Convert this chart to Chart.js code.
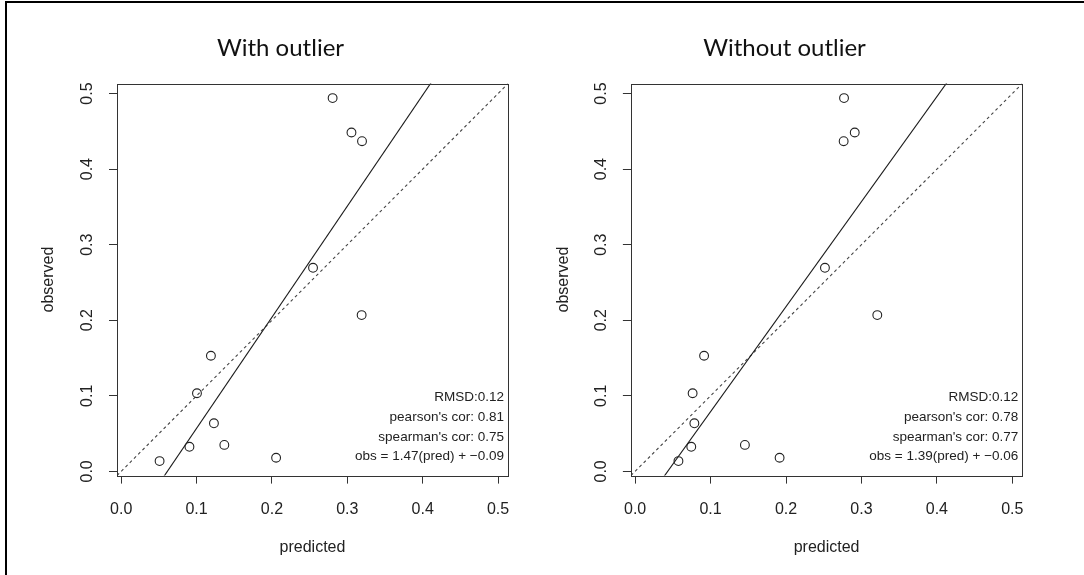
<!DOCTYPE html>
<html>
<head>
<meta charset="utf-8">
<script src="https://cdn.jsdelivr.net/npm/chart.js@4.4.1/dist/chart.umd.min.js"></script>
<style>
  html, body { margin: 0; padding: 0; background: #fff; }
  #page { position: relative; width: 1084px; height: 575px; overflow: hidden; }
  #frame { position: absolute; left: 5px; top: 1px; width: 1090px; height: 580px;
           border-left: 2px solid #000; border-top: 2px solid #000; }
  canvas { position: absolute; top: 0; }
</style>
</head>
<body>
<div id="page">
  <div id="frame"></div>
  <canvas id="left" width="551" height="575" style="left:5px"></canvas>
  <canvas id="right" width="511" height="575" style="left:529px"></canvas>
</div>
<script>
// observed values (same in both panels)
const observed = [0.494, 0.4485, 0.437, 0.2694, 0.2068, 0.153, 0.1034, 0.0636, 0.0325, 0.035, 0.0136, 0.018];
// predicted values
const predWith = [0.2805, 0.3055, 0.3195, 0.2545, 0.319, 0.119, 0.1005, 0.123, 0.0905, 0.1368, 0.0509, 0.2055];
const predWithout = [0.2769, 0.2911, 0.2764, 0.2516, 0.321, 0.0914, 0.0762, 0.0785, 0.0744, 0.1455, 0.0574, 0.1915];

const titles = ['With outlier', 'Without outlier'];
const tickVals = [0, 0.1, 0.2, 0.3, 0.4, 0.5];

// regression lines from the legend text: obs = slope*(pred) + intercept
const slopes = [1.47, 1.39];
const intercepts = [-0.09, -0.06];

const statsWith = ['RMSD:0.12', "pearson's cor: 0.81", "spearman's cor: 0.75", 'obs = 1.47(pred) + \u22120.09'];
const statsWithout = ['RMSD:0.12', "pearson's cor: 0.78", "spearman's cor: 0.77", 'obs = 1.39(pred) + \u22120.06'];

// R style limits: range of observed widened by 4%
const oMin = Math.min(...observed), oMax = Math.max(...observed);
const lo = oMin - 0.04 * (oMax - oMin);
const hi = oMax + 0.04 * (oMax - oMin);

const FONT = '"Liberation Sans", Arial, sans-serif';

const boxAndText = {
  id: 'boxAndText',
  afterDraw(chart, args, opts) {
    const { ctx, chartArea: a } = chart;
    ctx.save();
    ctx.strokeStyle = '#333';
    ctx.lineWidth = 1;
    ctx.strokeRect(Math.round(a.left) + 0.5, Math.round(a.top) + 0.5,
                   Math.round(a.right - a.left), Math.round(a.bottom - a.top));
    ctx.fillStyle = '#222';
    ctx.font = '13.5px ' + FONT;
    ctx.textAlign = 'right';
    ctx.textBaseline = 'middle';
    const n = opts.lines.length;
    opts.lines.forEach((t, i) => {
      ctx.fillText(t, a.right - 4, a.bottom - 19 - 19.7 * (n - 1 - i));
    });
    ctx.restore();
  }
};

function makePanel(id, k, pred, lines, yWidth, padRight, yTitlePad) {
  const ctx = document.getElementById(id).getContext('2d');
  const pts = pred.map((p, i) => ({ x: p, y: observed[i] }));
  const fit = [lo, hi].map(x => ({ x: x, y: slopes[k] * x + intercepts[k] }));
  const diag = [lo, hi].map(x => ({ x: x, y: x }));

  return new Chart(ctx, {
    type: 'scatter',
    data: {
      datasets: [{
        data: pts,
        pointStyle: 'circle',
        pointRadius: 4.4,
        borderWidth: 1.1,
        borderColor: '#222',
        backgroundColor: 'rgba(0,0,0,0)'
      }, {
        type: 'line',
        data: fit,
        borderColor: '#1a1a1a',
        borderWidth: 1.1,
        pointRadius: 0
      }, {
        type: 'line',
        data: diag,
        borderColor: '#444',
        borderWidth: 1.1,
        borderDash: [3, 3],
        pointRadius: 0
      }]
    },
    options: {
      responsive: false,
      animation: false,
      devicePixelRatio: 1,
      layout: { padding: 0 },
      plugins: {
        legend: { display: false },
        tooltip: { enabled: false },
        title: {
          display: true,
          text: titles[k],
          color: '#111',
          font: { family: 'Lato', size: 24, weight: 'normal', lineHeight: 1.2 },
          padding: { top: 34.1, bottom: 20.7 }
        },
        boxAndText: { lines: lines }
      },
      scales: {
        x: {
          type: 'linear',
          min: lo,
          max: hi,
          afterBuildTicks: s => { s.ticks = tickVals.map(v => ({ value: v })); },
          afterFit: s => { s.height = 575 - 475.6; },
          border: { display: false },
          grid: { drawOnChartArea: false, drawTicks: true, tickLength: 8, color: '#333' },
          ticks: {
            autoSkip: false, padding: 16, color: '#222',
            font: { family: FONT, size: 16 },
            callback: v => Number(v).toFixed(1)
          },
          title: {
            display: true, text: 'predicted', color: '#222',
            font: { family: FONT, size: 16, lineHeight: 1.2 },
            padding: { top: 0, bottom: 18 }
          }
        },
        y: {
          type: 'linear',
          position: 'left',
          min: lo,
          max: hi,
          afterBuildTicks: s => { s.ticks = tickVals.map(v => ({ value: v })); },
          afterFit: s => { s.width = yWidth; },
          border: { display: false },
          grid: { drawOnChartArea: false, drawTicks: true, tickLength: 8, color: '#333' },
          ticks: {
            autoSkip: false, padding: 10, color: '#222',
            minRotation: 90, maxRotation: 90, crossAlign: 'center',
            font: { family: FONT, size: 16 },
            callback: v => Number(v).toFixed(1)
          },
          title: {
            display: true, text: 'observed', color: '#222',
            font: { family: FONT, size: 16, lineHeight: 1.2 },
            padding: { top: yTitlePad, bottom: 0 }
          }
        },
        pad: {
          type: 'linear',
          position: 'right',
          display: true,
          afterFit: s => { s.width = padRight; },
          border: { display: false },
          grid: { display: false },
          ticks: { display: false }
        }
      }
    },
    plugins: [boxAndText]
  });
}

makePanel('left', 0, predWith, statsWith, 112, 48, 34);
makePanel('right', 1, predWithout, statsWithout, 101.9, 17.7, 24.6);
</script>
</body>
</html>
